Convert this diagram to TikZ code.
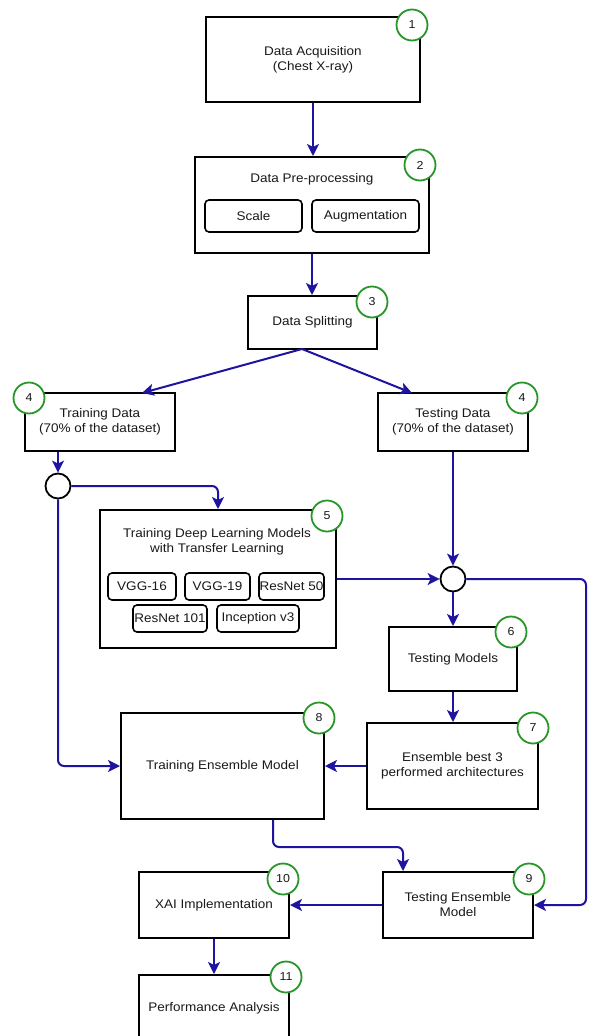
\documentclass[tikz,border=0pt]{standalone}
\usepackage{fontspec}
\setmainfont[FakeStretch=1.08]{Liberation Sans}
\usetikzlibrary{arrows.meta,calc}
\definecolor{cblue}{RGB}{30,20,160}
\definecolor{cgreen}{RGB}{40,150,40}
\definecolor{ctext}{RGB}{25,25,25}
\begin{document}
\begin{tikzpicture}[x=1pt,y=-1pt,
  font=\fontsize{12.5}{15}\selectfont, text=ctext,
  box/.style={draw=black, line width=2pt, fill=white, align=center, inner sep=0pt},
  sub/.style={draw=black, line width=1.6pt, rounded corners=4pt, align=center, inner sep=0pt},
  plain/.style={align=center, inner sep=0pt},
  num/.style={circle, draw=cgreen, line width=1.8pt, fill=white, minimum size=31pt, inner sep=0pt, font=\fontsize{11.5}{11.5}\selectfont},
  junc/.style={circle, draw=black, line width=1.8pt, fill=white, minimum size=25pt, inner sep=0pt},
  conn/.style={draw=cblue, line width=2pt, rounded corners=6pt, -{Stealth[length=12pt,width=12pt,inset=3pt]}},
]
\useasboundingbox (0,0) rectangle (589,1036);
\clip (0,0) rectangle (589,1036);
\fill[white] (0,0) rectangle (589,1036);

% boxes
\node[box, minimum width=214pt, minimum height=85pt] (b1) at (313,59.5) {Data Acquisition\\(Chest X-ray)};
\node[box, minimum width=234pt, minimum height=96pt] (b2) at (312,205) {};
\node[plain] (t2) at (312,179) {Data Pre-processing};
\node[sub, minimum width=97pt, minimum height=32pt] (scale) at (253.5,216) {Scale};
\node[sub, minimum width=107pt, minimum height=32pt] (aug) at (365.5,216) {Augmentation};
\node[box, minimum width=129pt, minimum height=53pt] (b3) at (312.5,322.5) {Data Splitting};
\node[box, minimum width=150pt, minimum height=58pt] (train) at (100,422) {Training Data\\(70\% of the dataset)};
\node[box, minimum width=150pt, minimum height=58pt] (test) at (453,422) {Testing Data\\(70\% of the dataset)};
\node[junc] (j1) at (58,486) {};
\node[box, minimum width=236pt, minimum height=138pt] (b5) at (218,579) {};
\node[plain] (t5) at (217,542) {Training Deep Learning Models\\with Transfer Learning};
\node[sub, minimum width=68pt, minimum height=27pt] (vgg16) at (142,586.5) {VGG-16};
\node[sub, minimum width=65pt, minimum height=27pt] (vgg19) at (217.5,586.5) {VGG-19};
\node[sub, minimum width=65pt, minimum height=27pt] (rn50) at (291.5,586.5) {ResNet 50};
\node[sub, minimum width=74pt, minimum height=27pt] (rn101) at (170,618.5) {ResNet 101};
\node[sub, minimum width=82pt, minimum height=27pt] (incv3) at (258,618.5) {Inception v3};
\node[junc] (j2) at (453,579) {};
\node[box, minimum width=128pt, minimum height=64pt] (b6) at (453,659) {Testing Models};
\node[box, minimum width=171pt, minimum height=86pt] (b7) at (452.5,766) {Ensemble best 3\\performed architectures};
\node[box, minimum width=203pt, minimum height=106pt] (b8) at (222.5,766) {Training Ensemble Model};
\node[box, minimum width=150pt, minimum height=66pt] (b9) at (458,905) {Testing Ensemble\\Model};
\node[box, minimum width=150pt, minimum height=66pt] (b10) at (214,905) {XAI Implementation};
\node[box, minimum width=150pt, minimum height=66pt] (b11) at (214,1008) {Performance Analysis};

% connectors
\coordinate (sp) at (302,349);
\coordinate (trin) at (142,393);
\coordinate (tein) at (412,393);
\coordinate (rc) at (586,579);
\path[conn] (b1.south) -- (b1.south |- b2.north);
\path[conn] (b2.south) -- (b2.south |- b3.north);
\path[conn] (sp) -- (trin);
\path[conn] (sp) -- (tein);
\path[conn] (j1 |- train.south) -- (j1.north);
\path[conn] (j1.east) -| (b5.north);
\path[conn] (j1.south) |- (b8.west);
\path[conn] (test.south) -- (j2.north);
\path[conn] (b5.east) -- (j2.west);
\path[conn] (j2.south) -- (b6.north);
\path[conn] (j2.east) -- (rc) |- (b9.east);
\path[conn] (b6.south) -- (b6.south |- b7.north);
\path[conn] (b7.west) -- (b8.east);
\path[conn] ([xshift=50.5pt]b8.south) -- ++(0,27) -| ([xshift=-55pt]b9.north);
\path[conn] (b9.west) -- (b10.east);
\path[conn] (b10.south) -- (b10.south |- b11.north);

% number circles
\node[num] (n1) at (412,25) {1};
\node[num] (n2) at (420,165) {2};
\node[num] (n3) at (372,302) {3};
\node[num] (n4a) at (29,398) {4};
\node[num] (n4b) at (522,398) {4};
\node[num] (n5) at (327,516) {5};
\node[num] (n6) at (511,632) {6};
\node[num] (n7) at (533,728) {7};
\node[num] (n8) at (319,718) {8};
\node[num] (n9) at (529,879) {9};
\node[num] (n10) at (283,879) {10};
\node[num] (n11) at (286,977) {11};
\end{tikzpicture}
\end{document}
